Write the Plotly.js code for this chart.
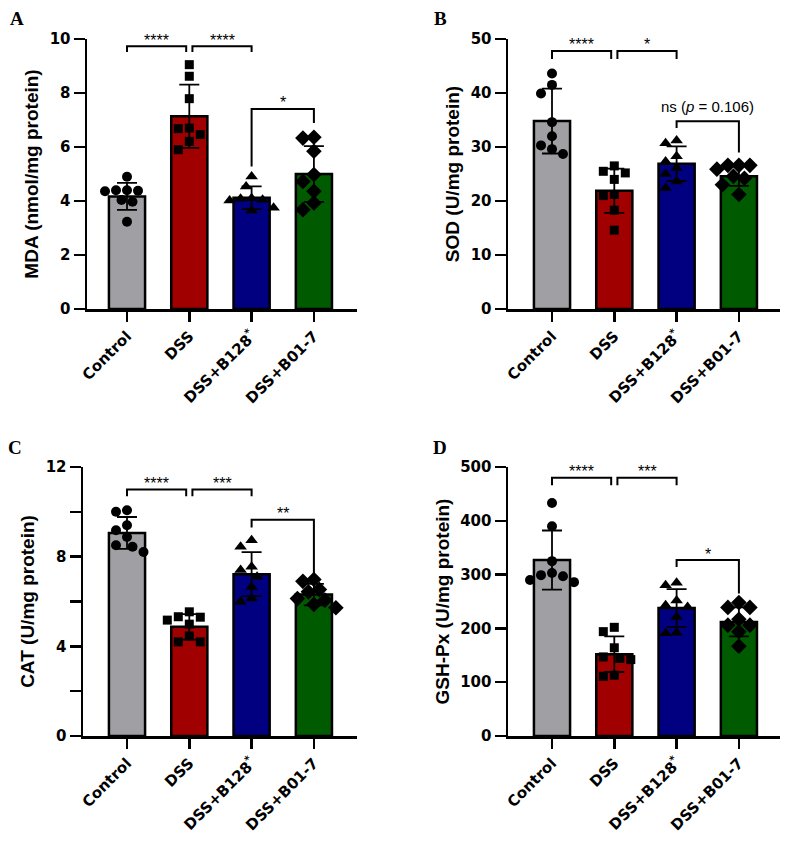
<!DOCTYPE html>
<html>
<head>
<meta charset="utf-8">
<script src="https://cdn.plot.ly/plotly-3.0.1.min.js"></script>
<style>body{margin:0;background:#fff}#chart{width:794px;height:848px}</style>
</head>
<body>
<div id="chart"></div>
<script>
// ---------------- DATA ----------------
const GROUPS = ['Control', 'DSS', 'DSS+B128<sup>*</sup>', 'DSS+B01-7'];

// Panel A: MDA (nmol/mg protein)
const MDA_MEAN = [4.17, 7.14, 4.12, 5.00];
const MDA_SD   = [0.50, 1.17, 0.42, 1.03];
const MDA_CONTROL = [4.90, 4.40, 4.38, 4.40, 4.36, 4.04, 3.97, 3.23];
const MDA_DSS     = [9.05, 8.62, 7.79, 6.70, 6.46, 6.68, 6.21, 5.90];
const MDA_B128    = [4.91, 4.54, 4.10, 4.05, 4.08, 4.02, 3.75, 3.65];
const MDA_B01     = [6.33, 6.36, 5.84, 4.98, 4.72, 4.36, 3.93, 3.68];
const MDA_SIG = [
  {a: 0, b: 1, y: 9.73, left: 9.52, right: 9.52, text: '****'},
  {a: 1, b: 2, y: 9.73, left: 9.52, right: 9.52, text: '****'},
  {a: 2, b: 3, y: 7.41, left: 5.28, right: 6.89, text: '*'}
];

// Panel B: SOD (U/mg protein)
const SOD_MEAN = [34.8, 21.9, 26.9, 24.6];
const SOD_SD   = [6.0, 4.1, 3.2, 1.8];
const SOD_CONTROL = [43.6, 41.5, 39.9, 34.6, 32.0, 30.3, 29.6, 28.7];
const SOD_DSS     = [26.5, 25.5, 25.2, 24.0, 21.0, 21.2, 18.3, 14.6];
const SOD_B128    = [30.7, 31.2, 28.3, 27.3, 26.1, 23.6, 22.4, 25.0];
const SOD_B01     = [26.6, 26.6, 26.6, 25.9, 24.6, 24.2, 23.0, 21.2];
const SOD_SIG = [
  {a: 0, b: 1, y: 47.8, left: 46.3, right: 46.3, text: '****'},
  {a: 1, b: 2, y: 47.8, left: 46.3, right: 46.3, text: '*'},
  {a: 2, b: 3, y: 34.75, left: 33.5, right: 29.0, text: 'ns (<i>p</i> = 0.106)'}
];

// Panel C: CAT (U/mg protein)
const CAT_MEAN = [9.06, 4.87, 7.22, 6.31];
const CAT_SD   = [0.71, 0.57, 0.98, 0.48];
const CAT_CONTROL = [10.07, 10.00, 9.40, 9.18, 8.88, 8.51, 8.44, 8.21];
const CAT_DSS     = [5.32, 5.54, 5.30, 4.99, 4.46, 4.20, 4.20, 5.17];
const CAT_B128    = [8.73, 8.44, 7.55, 7.40, 6.65, 6.13, 5.99, 7.10];
const CAT_B01     = [6.98, 6.90, 6.53, 6.43, 6.13, 6.06, 5.87, 5.72];
const CAT_SIG = [
  {a: 0, b: 1, y: 11.0, left: 10.7, right: 10.7, text: '****'},
  {a: 1, b: 2, y: 11.0, left: 10.7, right: 10.7, text: '***'},
  {a: 2, b: 3, y: 9.65, left: 9.3, right: 7.22, text: '**'}
];

// Panel D: GSH-Px (U/mg protein)
const GSH_MEAN = [327, 152, 238, 212];
const GSH_SD   = [55, 33, 35, 27];
const GSH_CONTROL = [433, 390, 325, 303, 299, 297, 290, 286];
const GSH_DSS     = [202, 194, 164, 147, 144, 142, 111, 113];
const GSH_B128    = [280, 285, 243, 240, 221, 252, 191, 192];
const GSH_B01     = [239, 239, 248, 217, 206, 206, 194, 167];
const GSH_SIG = [
  {a: 0, b: 1, y: 480, left: 466, right: 466, text: '****'},
  {a: 1, b: 2, y: 480, left: 466, right: 466, text: '***'},
  {a: 2, b: 3, y: 327, left: 314, right: 265, text: '*'}
];

// Y axis tick definitions
const MDA_TICKS = [0, 2, 4, 6, 8, 10];
const SOD_TICKS = [0, 10, 20, 30, 40, 50];
const CAT_TICKS = [0, 2, 4, 6, 8, 10, 12];
const CAT_TICKTEXT = ['0', '', '4', '', '8', '', '12'];
const GSH_TICKS = [0, 100, 200, 300, 400, 500];

// ---------------- STYLE / LAYOUT ----------------
const W = 794, H = 848;
const COLORS = ['#A0A0A4', '#A00000', '#000080', '#005A00'];
const SYMBOLS = ['circle', 'square', 'triangle-up', 'diamond'];
const SIZES = [10, 9, 11, 12];
const FONT = 'Liberation Sans, Arial, Helvetica, sans-serif';
const TICKFONT = 'DejaVu Sans, Liberation Sans, Arial, sans-serif';
const SERIF = 'Liberation Serif, Times New Roman, serif';
const CAT_SPACING = 62.3;   // px between group centres
const BAR_WIDTH = 0.58;
const GAP = 0.05;
const SWARM_D = 11;

const panels = [
  {letter: 'A', title: 'MDA (nmol/mg protein)', mean: MDA_MEAN, sd: MDA_SD,
   pts: [MDA_CONTROL, MDA_DSS, MDA_B128, MDA_B01], sig: MDA_SIG,
   ticks: MDA_TICKS, ticktext: MDA_TICKS.map(String),
   box: [87, 357, 39, 309], c0: 127, letterPos: [17, 18]},
  {letter: 'B', title: 'SOD (U/mg protein)', mean: SOD_MEAN, sd: SOD_SD,
   pts: [SOD_CONTROL, SOD_DSS, SOD_B128, SOD_B01], sig: SOD_SIG,
   ticks: SOD_TICKS, ticktext: SOD_TICKS.map(String),
   box: [508, 780, 39, 309], c0: 552, letterPos: [440, 18]},
  {letter: 'C', title: 'CAT (U/mg protein)', mean: CAT_MEAN, sd: CAT_SD,
   pts: [CAT_CONTROL, CAT_DSS, CAT_B128, CAT_B01], sig: CAT_SIG,
   ticks: CAT_TICKS, ticktext: CAT_TICKTEXT,
   box: [83, 357, 467, 736], c0: 127, letterPos: [15, 447]},
  {letter: 'D', title: 'GSH-Px (U/mg protein)', mean: GSH_MEAN, sd: GSH_SD,
   pts: [GSH_CONTROL, GSH_DSS, GSH_B128, GSH_B01], sig: GSH_SIG,
   ticks: GSH_TICKS, ticktext: GSH_TICKS.map(String),
   box: [508, 780, 467, 736], c0: 552, letterPos: [440, 447]}
];

// deterministic beeswarm: spread points that would overlap at similar values
function swarm(vals, pxPerUnit, pxPerCat, d) {
  const order = vals.map((_, i) => i).sort((i, j) => vals[j] - vals[i]);
  const placed = [];
  const out = new Array(vals.length).fill(0);
  const steps = [0, -0.5, 0.5, -1, 1, -1.5, 1.5, -2, 2];
  for (const i of order) {
    const py = vals[i] * pxPerUnit;
    for (const s of steps) {
      const px = s * d;
      const ok = placed.every(p => Math.hypot(p[0] - px, p[1] - py) >= d);
      if (ok) { placed.push([px, py]); out[i] = px / pxPerCat; break; }
    }
  }
  return out;
}

const traces = [];
const layout = {
  width: W, height: H,
  margin: {l: 0, r: 0, t: 0, b: 0},
  paper_bgcolor: 'white', plot_bgcolor: 'white',
  showlegend: false,
  font: {family: FONT, color: 'black'},
  shapes: [], annotations: []
};

panels.forEach((p, k) => {
  const sfx = k === 0 ? '' : String(k + 1);
  const xr = 'x' + sfx, yr = 'y' + sfx;
  const [x0, x1, y0, y1] = p.box;
  const ymax = p.ticks[p.ticks.length - 1];
  const pxPerUnit = (y1 - y0) / ymax;
  const xrange = [(x0 - p.c0) / CAT_SPACING, (x1 - p.c0) / CAT_SPACING];

  layout['xaxis' + sfx] = {
    domain: [x0 / W, x1 / W], anchor: yr, range: xrange,
    tickmode: 'array', tickvals: [0, 1, 2, 3], ticktext: GROUPS,
    tickangle: -45, ticks: 'outside', ticklen: 10, tickwidth: 2.5, tickcolor: 'black',
    showline: true, linewidth: 2.5, linecolor: 'black',
    showgrid: false, zeroline: false, fixedrange: true,
    tickfont: {family: TICKFONT, size: 15, weight: 'bold', color: 'black'}
  };
  layout['yaxis' + sfx] = {
    domain: [1 - y1 / H, 1 - y0 / H], anchor: xr, range: [0, ymax],
    tickmode: 'array', tickvals: p.ticks, ticktext: p.ticktext,
    ticks: 'outside', ticklen: 11, tickwidth: 2.5, tickcolor: 'black',
    showline: true, linewidth: 2.5, linecolor: 'black',
    showgrid: false, zeroline: false, fixedrange: true,
    tickfont: {family: TICKFONT, size: 15, weight: 'bold', color: 'black'},
    title: {text: p.title, standoff: 6, font: {family: FONT, size: 19, weight: 'bold', color: 'black'}}
  };

  traces.push({
    type: 'bar', x: [0, 1, 2, 3], y: p.mean, width: BAR_WIDTH,
    xaxis: xr, yaxis: yr, hoverinfo: 'skip',
    marker: {color: COLORS, line: {color: 'black', width: 2.5}},
    error_y: {type: 'data', array: p.sd, visible: true, color: 'black', thickness: 1.8, width: 10}
  });

  p.pts.forEach((vals, g) => {
    const offs = swarm(vals, pxPerUnit, CAT_SPACING, SWARM_D);
    traces.push({
      type: 'scatter', mode: 'markers',
      x: vals.map((_, i) => g + offs[i]), y: vals,
      xaxis: xr, yaxis: yr, cliponaxis: false, hoverinfo: 'skip',
      marker: {symbol: SYMBOLS[g], size: SIZES[g], color: 'black', line: {width: 0}}
    });
  });

  p.sig.forEach(br => {
    const shareL = p.sig.some(o => o !== br && o.b === br.a && o.y === br.y);
    const shareR = p.sig.some(o => o !== br && o.a === br.b && o.y === br.y);
    const bx0 = br.a + (shareL ? GAP : 0);
    const bx1 = br.b - (shareR ? GAP : 0);
    layout.shapes.push({
      type: 'path', xref: xr, yref: yr,
      path: `M ${bx0},${br.left} L ${bx0},${br.y} L ${bx1},${br.y} L ${bx1},${br.right}`,
      line: {color: 'black', width: 2}
    });
    const isStar = br.text.indexOf('*') === 0;
    layout.annotations.push({
      xref: xr, yref: yr, x: (bx0 + bx1) / 2, y: br.y,
      text: br.text, showarrow: false, xanchor: 'center', yanchor: 'middle',
      yshift: isStar ? 6 : 15,
      font: {family: FONT, size: isStar ? 16 : 15, color: 'black'}
    });
  });

  layout.annotations.push({
    xref: 'paper', yref: 'paper', x: p.letterPos[0] / W, y: 1 - p.letterPos[1] / H,
    text: p.letter, showarrow: false, xanchor: 'center', yanchor: 'middle',
    font: {family: SERIF, size: 19, weight: 'bold', color: 'black'}
  });
});

Plotly.newPlot('chart', traces, layout, {staticPlot: true, displayModeBar: false});
</script>
</body>
</html>
